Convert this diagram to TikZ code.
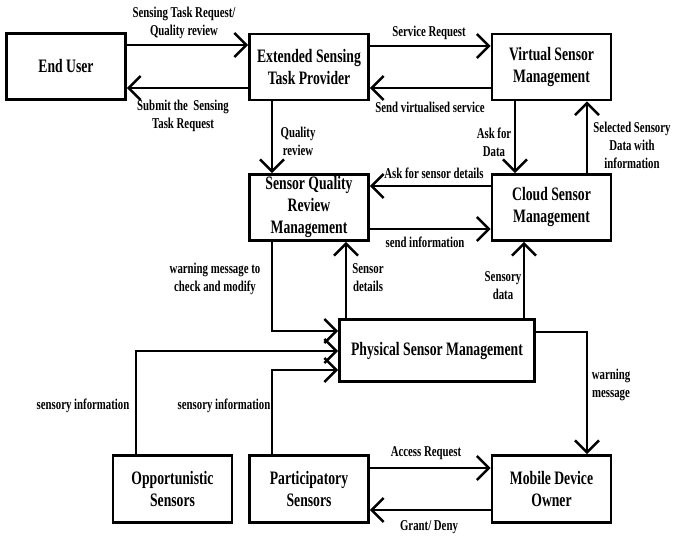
\documentclass[tikz,border=0pt]{standalone}
\usepackage{fontspec}
\setmainfont{Liberation Serif}[FakeStretch=0.72]
\usetikzlibrary{arrows.meta}
\begin{document}
\begin{tikzpicture}[x=1pt,y=-1pt,
  box/.style={draw,line width=2.6pt,minimum width=119pt,minimum height=66pt,
    align=center,inner sep=2pt,font=\bfseries\fontsize{19}{22}\selectfont},
  lbl/.style={align=center,inner sep=0pt,font=\bfseries\fontsize{15}{18}\selectfont},
  arr/.style={line width=2.6pt,-{Straight Barb[length=12pt,width=24pt]}},
  con/.style={line width=2.6pt}]
\useasboundingbox (0,0) rectangle (674,538);

% blocks
\node[box] (eu)   at (66,66.5)    {End User};
\node[box] (estp) at (309,67)     {Extended Sensing\\Task Provider};
\node[box] (vsm)  at (551.5,67)   {Virtual Sensor\\Management};
\node[box] (sqrm) at (309,207.5)  {Sensor Quality\\Review\\Management};
\node[box] (csm)  at (551.5,207.5){Cloud Sensor\\Management};
\node[box,minimum width=195pt,minimum height=62pt] (psm) at (437,350.5) {Physical Sensor Management};
\node[box,minimum height=67pt] (opp)  at (172.5,489) {Opportunistic\\Sensors};
\node[box,minimum height=67pt] (part) at (309,489)   {Participatory\\Sensors};
\node[box,minimum height=67pt] (mdo)  at (551.5,489) {Mobile Device\\Owner};

% top row
\draw[arr] (eu.east |- 0,45) -- (estp.west |- 0,45);
\draw[arr] (estp.west |- 0,88) -- (eu.east |- 0,88);
\draw[arr] (estp.east |- 0,46) -- (vsm.west |- 0,46);
\draw[arr] (vsm.west |- 0,88) -- (estp.east |- 0,88);

% verticals between first and second rows
\draw[arr] (estp.south -| 272,0) -- (sqrm.north -| 272,0);
\draw[arr] (vsm.south -| 515,0) -- (csm.north -| 515,0);
\draw[arr] (csm.north -| 587,0) -- (vsm.south -| 587,0);

% second row
\draw[arr] (csm.west |- 0,186) -- (sqrm.east |- 0,186);
\draw[arr] (sqrm.east |- 0,229) -- (csm.west |- 0,229);

% physical sensor management links
\draw[arr] (psm.north -| 346,0) -- (sqrm.south -| 346,0);
\draw[arr] (psm.north -| 524,0) -- (csm.south -| 524,0);
\coordinate (c1) at (272,331);
\draw[arr] (sqrm.south -| c1) -- (c1) -- (psm.west |- c1);
\coordinate (c2) at (136,351);
\draw[arr] (opp.north -| c2) -- (c2) -- (psm.west |- c2);
\coordinate (c3) at (272,370);
\draw[arr] (part.north -| c3) -- (c3) -- (psm.west |- c3);
\coordinate (c4) at (587,332);
\draw[arr] (psm.east |- c4) -- (c4) -- (mdo.north -| c4);

% bottom row
\draw[arr] (part.east |- 0,468) -- (mdo.west |- 0,468);
\draw[arr] (mdo.west |- 0,510) -- (part.east |- 0,510);

% labels
\node[lbl] (l1)  at (184,23)  {Sensing Task Request/\\Quality review};
\node[lbl] (l2)  at (183,116) {Submit the\ \ Sensing\\Task Request};
\node[lbl] (l3)  at (298,141) {Quality\\review};
\node[lbl] (l4)  at (429,33)  {Service Request};
\node[lbl] (l5)  at (430,107) {Send virtualised service};
\node[lbl] (l6)  at (494,142) {Ask for\\Data};
\node[lbl] (l7)  at (632,145) {Selected Sensory\\Data with\\information};
\node[lbl] (l8)  at (434,173) {Ask for sensor details};
\node[lbl] (l9)  at (425,242) {send information};
\node[lbl] (l10) at (368,278) {Sensor\\details};
\node[lbl] (l11) at (503,286) {Sensory\\data};
\node[lbl] (l12) at (215,279) {warning message to\\check and modify};
\node[lbl] (l13) at (83,406)  {sensory information};
\node[lbl] (l14) at (224,406) {sensory information};
\node[lbl] (l15) at (611,385) {warning\\message};
\node[lbl] (l16) at (426,453) {Access Request};
\node[lbl] (l17) at (429,527) {Grant/ Deny};
\end{tikzpicture}
\end{document}
